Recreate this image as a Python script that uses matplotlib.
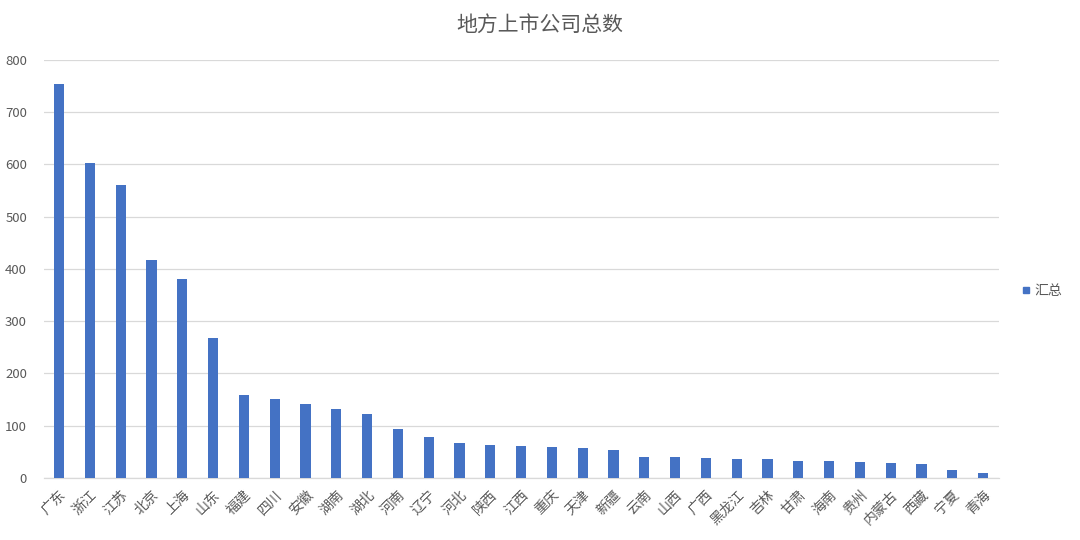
import matplotlib.pyplot as plt
from matplotlib.lines import Line2D

plt.rcParams['font.family'] = ['Noto Sans CJK SC', 'DejaVu Sans']

# 数据
provinces = ['广东', '浙江', '江苏', '北京', '上海', '山东', '福建', '四川', '安徽', '湖南',
             '湖北', '河南', '辽宁', '河北', '陕西', '江西', '重庆', '天津', '新疆', '云南',
             '山西', '广西', '黑龙江', '吉林', '甘肃', '海南', '贵州', '内蒙古', '西藏', '宁夏', '青海']
totals = [754, 603, 561, 417, 381, 268, 159, 151, 142, 131,
          122, 94, 78, 67, 63, 61, 60, 58, 54, 40,
          40, 38, 36, 36, 33, 33, 31, 29, 27, 15, 10]
yticks = [0, 100, 200, 300, 400, 500, 600, 700, 800]

bar_color = '#4472C4'
text_color = '#595959'

fig = plt.figure(figsize=(10.8, 5.4), dpi=100)
ax = fig.add_axes([0.0404, 0.115, 0.8842, 0.774])

x = range(len(provinces))
ax.bar(x, totals, width=0.33, color=bar_color, zorder=3)

ax.set_xlim(-0.5, len(provinces) - 0.5)
ax.set_ylim(0, 800)
ax.set_yticks(yticks)
ax.yaxis.grid(True, color='#D9D9D9', linewidth=0.9, zorder=0)
ax.set_axisbelow(True)

for side in ['top', 'right', 'left']:
    ax.spines[side].set_visible(False)
ax.spines['bottom'].set_color('#D9D9D9')
ax.spines['bottom'].set_linewidth(0.9)

ax.set_xticks(list(x))
ax.set_xticklabels(provinces, rotation=45, ha='right', rotation_mode='anchor',
                   fontsize=10, color=text_color)
ax.tick_params(axis='x', length=0, pad=7)
ax.tick_params(axis='y', length=0, pad=12, labelsize=9.5, labelcolor=text_color)

fig.suptitle('地方上市公司总数', y=0.975, fontsize=15, color=text_color)

handle = Line2D([], [], marker='s', linestyle='none', color=bar_color, markersize=5)
ax.legend([handle], ['汇总'], loc='center left', bbox_to_anchor=(1.007, 0.447),
          frameon=False, handletextpad=0.0, handlelength=1.2, fontsize=10,
          labelcolor=text_color)

plt.savefig('out.png', dpi=100)
